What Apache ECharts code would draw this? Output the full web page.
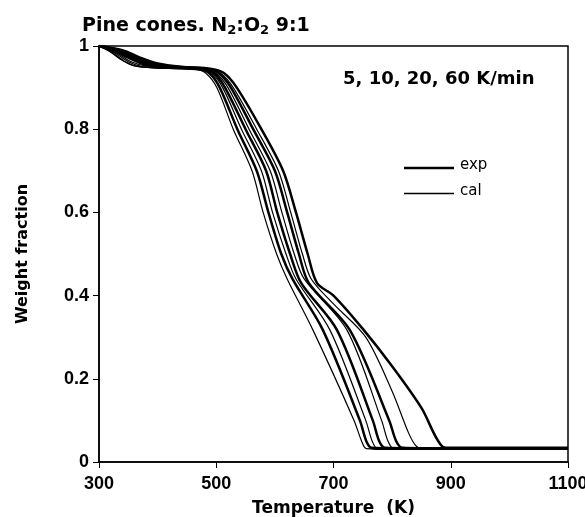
<!DOCTYPE html>
<html><head><meta charset="utf-8">
<script src="https://cdn.jsdelivr.net/npm/echarts@6/dist/echarts.min.js"></script>
<style>html,body{margin:0;padding:0;background:#fff}#c{width:585px;height:517px}</style>
</head><body><div id="c"></div>
<script>
// [Temperature K, weight fraction]
var cal5 = [[300,1],[320,0.985],[340,0.965],[360,0.952],[400,0.947],[465,0.944],[482,0.935],[501,0.9],[529,0.8],[561,0.7],[580,0.6],[603,0.5],[621,0.44],[665,0.317],[735,0.1],[748,0.05],[756,0.032],[800,0.03],[1100,0.03]];
var exp5 = [[300,1],[325,0.99],[350,0.972],[380,0.955],[420,0.948],[470,0.944],[488,0.935],[506,0.9],[536,0.8],[569,0.7],[589,0.6],[611,0.5],[630,0.44],[682,0.317],[745,0.1],[756,0.05],[765,0.034],[800,0.033],[1100,0.033]];
var cal10 = [[300,1],[322,0.985],[345,0.962],[365,0.951],[405,0.947],[473,0.944],[492,0.935],[511,0.9],[543,0.8],[577,0.7],[596,0.6],[619,0.5],[636,0.44],[694,0.317],[755,0.1],[766,0.05],[775,0.032],[820,0.03],[1100,0.03]];
var exp10 = [[300,1],[330,0.99],[355,0.972],[385,0.956],[425,0.949],[478,0.945],[496,0.935],[515,0.9],[550,0.8],[585,0.7],[604,0.6],[626,0.5],[645,0.43],[706,0.317],[767,0.1],[778,0.05],[788,0.034],[830,0.033],[1100,0.033]];
var cal20 = [[300,1],[325,0.985],[350,0.962],[372,0.951],[410,0.947],[480,0.944],[499,0.935],[520,0.9],[556,0.8],[592,0.7],[612,0.6],[633,0.5],[650,0.44],[723,0.317],[782,0.1],[793,0.05],[803,0.032],[850,0.03],[1100,0.03]];
var exp20 = [[300,1],[335,0.99],[362,0.972],[392,0.957],[430,0.95],[485,0.945],[504,0.935],[525,0.9],[563,0.8],[600,0.7],[621,0.6],[641,0.5],[658,0.43],[728,0.317],[795,0.1],[807,0.05],[818,0.034],[860,0.033],[1100,0.033]];
var cal60 = [[300,1],[328,0.985],[355,0.962],[380,0.952],[420,0.948],[487,0.944],[507,0.935],[529,0.9],[569,0.8],[606,0.7],[627,0.6],[647,0.5],[662,0.44],[700,0.38],[755,0.3],[800,0.17],[828,0.07],[840,0.04],[852,0.031],[900,0.03],[1100,0.03]];
var exp60 = [[300,1],[340,0.99],[370,0.972],[400,0.958],[440,0.95],[492,0.945],[513,0.935],[535,0.9],[577,0.8],[614,0.7],[636,0.6],[656,0.5],[672,0.43],[700,0.4],[750,0.32],[800,0.23],[850,0.13],[887,0.036],[900,0.034],[1100,0.034]];

var xTicks = [300, 500, 700, 900, 1100];
var yTicks = [0, 0.2, 0.4, 0.6, 0.8, 1];
var legendNames = ['exp', 'cal'];
var rateText = '5, 10, 20, 60 K/min';

var AR = 'Liberation Sans, Arial, sans-serif';
var DJ = 'DejaVu Sans, sans-serif';
function mk(name, data, thick) {
  return {
    name: name, type: 'line', data: data, symbol: 'none', showSymbol: false,
    smooth: 0.3, animation: false,
    lineStyle: { color: '#000', width: thick ? 2.5 : 1.2 },
    itemStyle: { color: '#000' }
  };
}
var series = [
  mk('exp', exp5, true), mk('cal', cal5, false),
  mk('exp', exp10, true), mk('cal', cal10, false),
  mk('exp', exp20, true), mk('cal', cal20, false),
  mk('exp', exp60, true), mk('cal', cal60, false)
];
var chart = echarts.init(document.getElementById('c'));
chart.setOption({
  backgroundColor: '#fff',
  animation: false,
  title: {
    text: '{a|Pine cones. N}{s|2}{a|:O}{s|2}{a| 9:1}',
    left: 77, top: 10,
    textStyle: {
      rich: {
        a: { fontFamily: DJ, fontWeight: 'bold', fontSize: 19, color: '#000', lineHeight: 22 },
        s: { fontFamily: DJ, fontWeight: 'bold', fontSize: 13, color: '#000', lineHeight: 22, padding: [9, 0, 0, 0] }
      }
    }
  },
  graphic: [
    { type: 'text', left: 343, top: 70, style: { text: rateText, font: 'bold 18px ' + DJ, fill: '#000' } },
    { type: 'line', shape: { x1: 404, y1: 168, x2: 454, y2: 168 }, style: { stroke: '#000', lineWidth: 2.5 } },
    { type: 'line', shape: { x1: 404, y1: 193.5, x2: 454, y2: 193.5 }, style: { stroke: '#000', lineWidth: 1.3 } },
    { type: 'text', left: 460, top: 158, style: { text: legendNames[0], font: '15px ' + DJ, fill: '#000' } },
    { type: 'text', left: 460, top: 184, style: { text: legendNames[1], font: '15px ' + DJ, fill: '#000' } }
  ],
  grid: { left: 99, right: 17, top: 46, bottom: 55, show: true, borderColor: '#000', borderWidth: 1.5,
    containLabel: false, outerBoundsMode: 'none' },
  xAxis: {
    type: 'value', min: xTicks[0], max: xTicks[xTicks.length - 1], interval: 200,
    name: 'Temperature  (K)', nameLocation: 'middle', nameGap: 38,
    nameTextStyle: { fontFamily: DJ, fontWeight: 'bold', fontSize: 17, color: '#000' },
    axisLine: { lineStyle: { color: '#000', width: 1.5 } },
    axisTick: { show: true, length: 6, lineStyle: { color: '#000' } },
    axisLabel: { fontFamily: AR, fontWeight: 'bold', fontSize: 18, color: '#000', margin: 13,
      formatter: function (v) { return String(v); } },
    splitLine: { show: false }
  },
  yAxis: {
    type: 'value', min: yTicks[0], max: yTicks[yTicks.length - 1], interval: 0.2,
    name: 'Weight fraction', nameLocation: 'middle', nameGap: 68, nameRotate: 90,
    nameTextStyle: { fontFamily: DJ, fontWeight: 'bold', fontSize: 16, color: '#000' },
    axisLine: { show: true, lineStyle: { color: '#000', width: 1.5 } },
    axisTick: { show: true, length: 6, lineStyle: { color: '#000' } },
    axisLabel: { fontFamily: AR, fontWeight: 'bold', fontSize: 18, color: '#000', margin: 10,
      formatter: function (v) { return String(Math.round(v * 10) / 10); } },
    splitLine: { show: false }
  },
  series: series
});
</script></body></html>
